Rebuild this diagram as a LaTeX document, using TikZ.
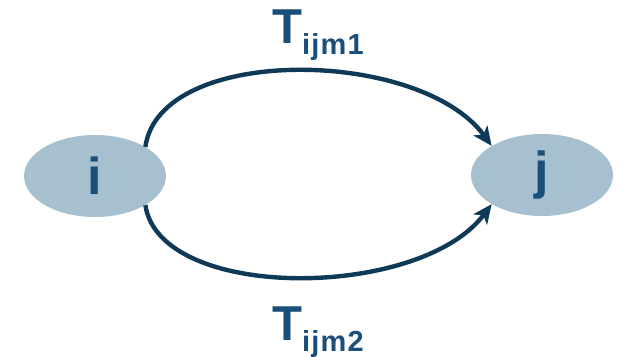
\documentclass[tikz,border=0pt]{standalone}
\usepackage{fontspec}
\setmainfont{Liberation Sans}
\usetikzlibrary{shapes.geometric,arrows.meta}
\definecolor{nodefill}{HTML}{A6C0D0}
\definecolor{txtblue}{HTML}{1A4F7C}
\definecolor{arrowc}{HTML}{0F3A57}
\tikzset{
  state/.style={ellipse, fill=nodefill, minimum width=142pt, minimum height=82pt, inner sep=0pt, text=txtblue, font=\fontsize{52}{52}\selectfont\bfseries},
  flow/.style={draw=arrowc, line width=4.4pt, -{Stealth[length=19pt,width=17pt,inset=5pt]}},
  lbl/.style={anchor=base west, inner sep=0pt, text=txtblue, font=\bfseries}
}
\begin{document}
\begin{tikzpicture}[x=1pt,y=-1pt]
\useasboundingbox (0,0) rectangle (631,356);
\node[state] (i) at (95,176) {i};
\node[state] (j) at (542,175) {j};
\draw[flow] (i.north east) .. controls (160,44) and (420,48) .. (j.north west);
\draw[flow] (i.south east) .. controls (160,302) and (420,300) .. (j.south west);
\node[lbl] (t1) at (272,43) {{\fontsize{49}{49}\selectfont T}\raisebox{-11pt}{\fontsize{29}{29}\selectfont\addfontfeatures{LetterSpace=4} ijm1}};
\node[lbl] (t2) at (272,340) {{\fontsize{49}{49}\selectfont T}\raisebox{-11pt}{\fontsize{29}{29}\selectfont\addfontfeatures{LetterSpace=4} ijm2}};
\end{tikzpicture}
\end{document}
